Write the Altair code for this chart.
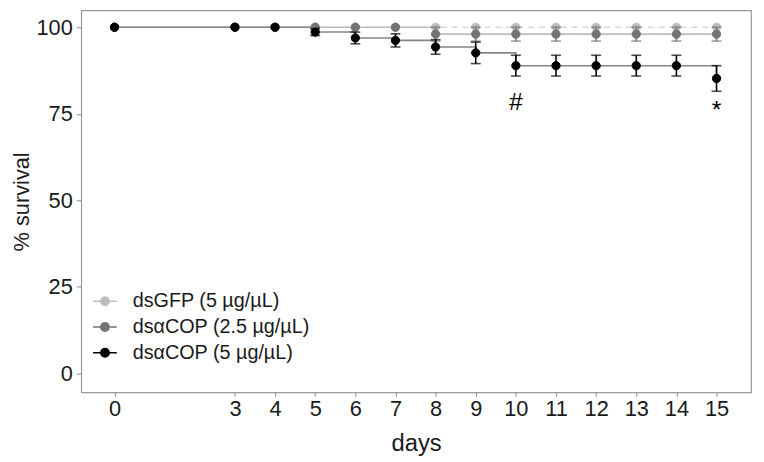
import altair as alt
import pandas as pd

days = [0, 3, 4, 5, 6, 7, 8, 9, 10, 11, 12, 13, 14, 15]
series_names = ["dsGFP (5 µg/µL)", "dsαCOP (2.5 µg/µL)", "dsαCOP (5 µg/µL)"]
gfp = [100] * 14
gfp_err = [0] * 14
cop25 = [100, 100, 100, 100, 100, 100, 98.0, 98.0, 98.0, 98.0, 98.0, 98.0, 98.0, 98.0]
cop25_err = [0, 0, 0, 0, 0, 0, 2.0, 2.0, 2.0, 2.0, 2.0, 2.0, 2.0, 2.0]
cop5 = [100, 100, 100, 98.6, 96.9, 96.2, 94.3, 92.6, 88.9, 88.9, 88.9, 88.9, 88.9, 85.2]
cop5_err = [0, 0, 0, 1.0, 1.7, 1.9, 2.1, 3.1, 3.0, 3.0, 3.0, 3.0, 3.0, 3.7]
annot_days = [10, 15]
annot_vals = [78.4, 76.0]
annot_text = ["#", "*"]

point_colors = ["#bdbdbd", "#737373", "#000000"]
line_colors = ["#d9d9d9", "#bdbdbd", "#858585"]
bar_colors = ["#bdbdbd", "#737373", "#000000"]
dashes = [[6, 5], [1, 0], [1, 0]]

rows = []
for name, vals, errs in zip(series_names, [gfp, cop25, cop5], [gfp_err, cop25_err, cop5_err]):
    for d, v, e in zip(days, vals, errs):
        rows.append({"series": name, "day": d, "val": v, "err": e, "lo": v - e, "hi": v + e})
df = pd.DataFrame(rows)

xscale = alt.Scale(domain=[-0.83, 15.86], nice=False, zero=False)
yscale = alt.Scale(domain=[-5.43, 104.86], nice=False, zero=False)
xaxis = alt.Axis(values=days, title="days", labelFontSize=22, titleFontSize=24,
                 labelPadding=2, titlePadding=13, labelFlush=False, tickSize=4)
yaxis = alt.Axis(values=[0, 25, 50, 75, 100], title="% survival", labelFontSize=22,
                 titleFontSize=22, labelPadding=4, titlePadding=3, tickSize=5)

legend_symbol = ("M-1,0L1,0M-0.35,0A0.35,0.35,0,1,1,0.35,0"
                 "A0.35,0.35,0,1,1,-0.35,0Z")
color_scale = alt.Scale(domain=series_names, range=point_colors)
legend = alt.Legend(title=None, orient="none", legendX=11, legendY=281,
                    symbolType=legend_symbol, symbolSize=576, symbolStrokeWidth=1.6,
                    labelFontSize=20, labelColor="#1a1a1a", labelOffset=15,
                    labelLimit=400, rowPadding=3, padding=0)

base = alt.Chart(df)
layers = []
for i, name in enumerate(series_names):
    sub = base.transform_filter(alt.datum.series == name)
    layers.append(
        sub.mark_line(interpolate="step-after", strokeWidth=1.6,
                      strokeDash=dashes[i], color=line_colors[i]).encode(
            x=alt.X("day:Q", scale=xscale, axis=xaxis),
            y=alt.Y("val:Q", scale=yscale, axis=yaxis),
        )
    )
    layers.append(
        sub.transform_filter(alt.datum.err > 0).mark_errorbar(
            ticks={"size": 10}, thickness=1.6, color=bar_colors[i]).encode(
            x="day:Q",
            y=alt.Y("lo:Q", scale=yscale, title="% survival"),
            y2="hi:Q",
        )
    )
    layers.append(
        sub.mark_circle(size=70, opacity=1, strokeWidth=1).encode(
            x="day:Q",
            y="val:Q",
            fill=alt.Fill("series:N", scale=color_scale, sort=series_names, legend=legend),
            stroke=alt.Stroke("series:N", scale=color_scale, sort=series_names, legend=legend),
        )
    )

annot_df = pd.DataFrame({"day": annot_days, "val": annot_vals, "text": annot_text})
annots = alt.Chart(annot_df).mark_text(fontSize=25, color="#000000",
                                        font="Liberation Sans").encode(
    x="day:Q", y="val:Q", text="text:N"
)

chart = alt.layer(*layers, annots).properties(
    width=677, height=386, autosize="none",
    padding={"left": 74, "top": 0, "right": 5, "bottom": 68},
).configure_view(stroke="#9a9a9a", strokeWidth=1.2).configure_axis(
    grid=False, domain=False, tickColor="#8a8a8a",
    labelColor="#1a1a1a", titleColor="#1a1a1a", labelFont="Liberation Sans",
    titleFont="Liberation Sans", titleFontWeight="normal",
).configure_legend(labelFont="Liberation Sans")

chart.save("out.html", embed_options={"renderer": "svg", "actions": False})
